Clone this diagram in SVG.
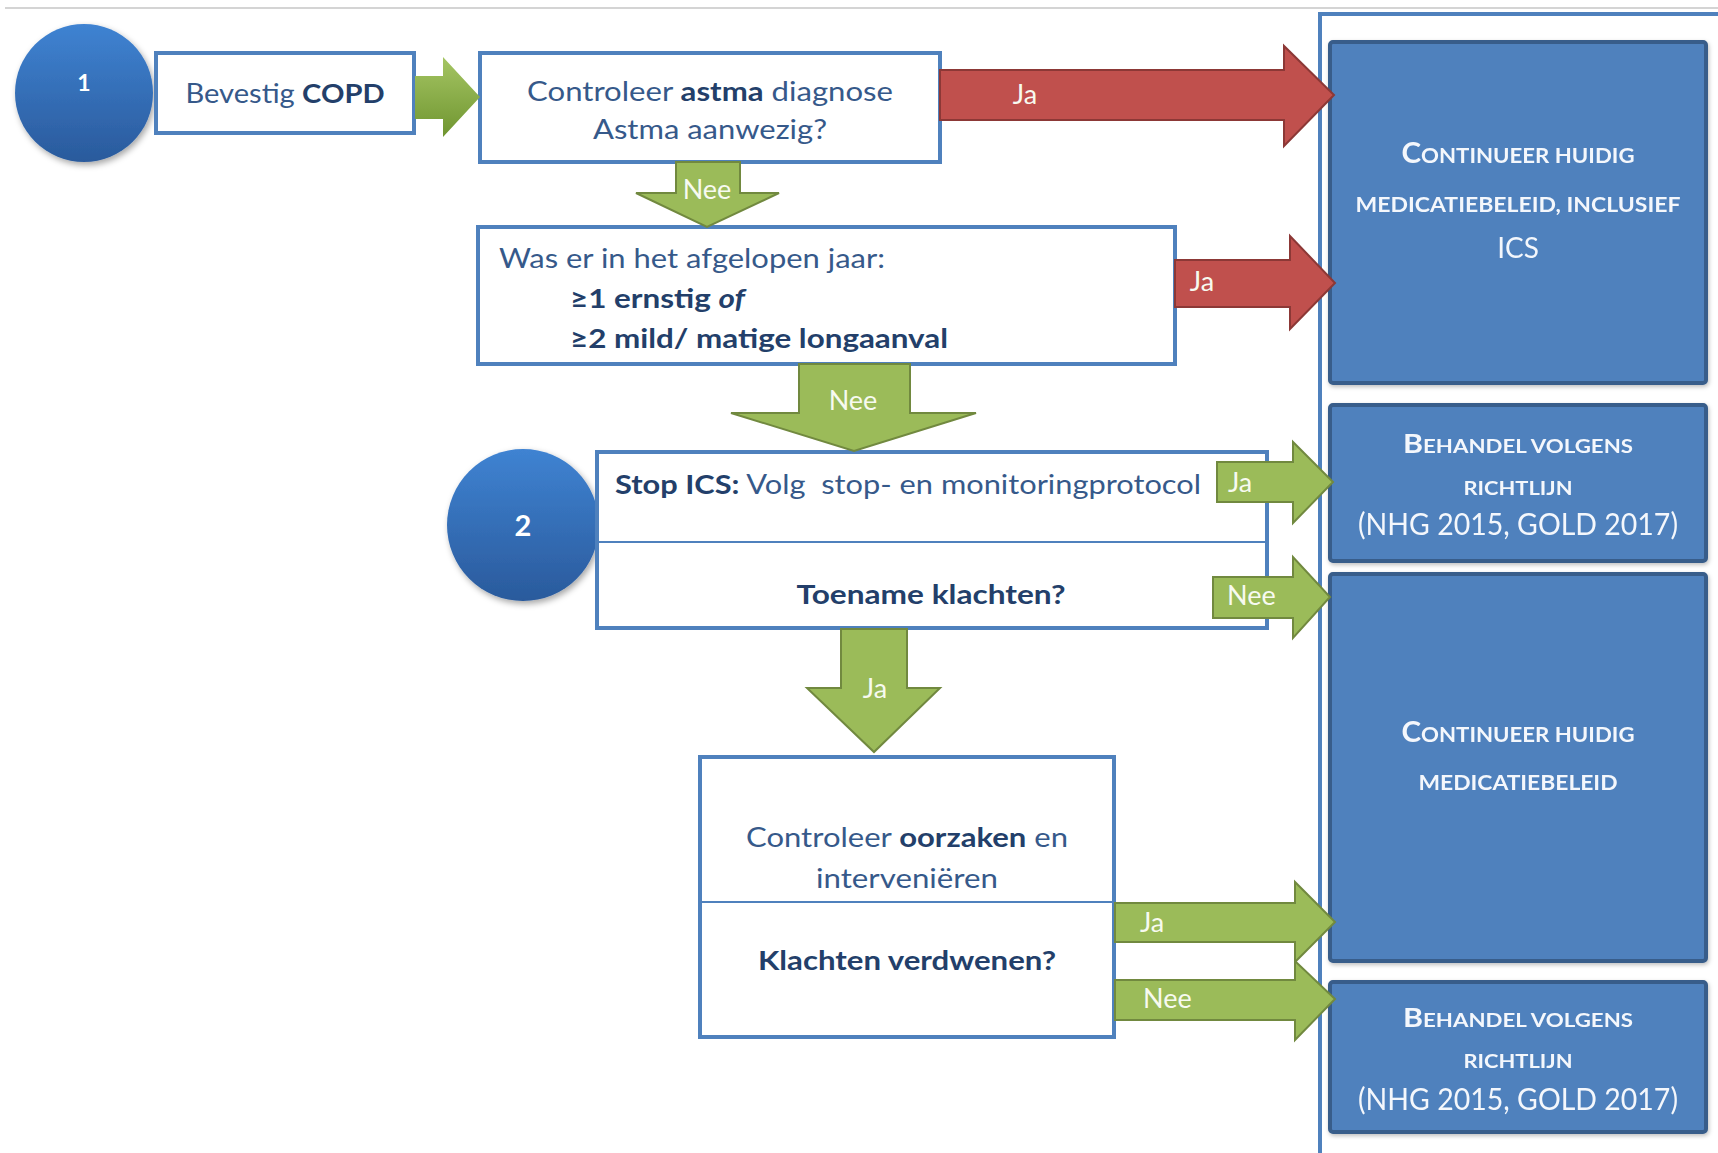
<svg xmlns="http://www.w3.org/2000/svg" width="1718" height="1153" viewBox="0 0 1718 1153">
  <defs>
    <linearGradient id="circGrad" x1="0" y1="0" x2="0" y2="1">
      <stop offset="0" stop-color="#3f83d2"/>
      <stop offset="1" stop-color="#2a5a9c"/>
    </linearGradient>
    <linearGradient id="greenGrad" x1="0" y1="0" x2="0" y2="1">
      <stop offset="0" stop-color="#a5c563"/>
      <stop offset="1" stop-color="#6f9530"/>
    </linearGradient>
    <filter id="shadow" x="-20%" y="-20%" width="140%" height="140%">
      <feDropShadow dx="2" dy="3" stdDeviation="3" flood-color="#000" flood-opacity="0.35"/>
    </filter>
    <filter id="softShadow" x="-5%" y="-5%" width="110%" height="110%">
      <feDropShadow dx="1" dy="2" stdDeviation="2" flood-color="#000" flood-opacity="0.25"/>
    </filter>
  </defs>
  <style>
    .wbox { fill: #ffffff; stroke: #4f81bd; stroke-width: 4; }
    .div { stroke: #4f81bd; stroke-width: 2; }
    .bbox { fill: #4f81bd; stroke: #385d8a; stroke-width: 4; }
    .circ { fill: url(#circGrad); filter: url(#shadow); }
    .green { fill: #9bbb59; stroke: #71893f; stroke-width: 2; stroke-linejoin: miter; }
    .red { fill: #c0504d; stroke: #8c3836; stroke-width: 2; stroke-linejoin: miter; }
    .t { font-family: Lato, "Open Sans", sans-serif; font-size: 27px; fill: #36598a; }
    .b { font-weight: bold; fill: #233f6a; }
    .num { font-family: Lato, "Open Sans", sans-serif; font-weight: bold; fill: #ffffff; text-anchor: middle; }
    .lbl { font-family: Lato, "Open Sans", sans-serif; font-size: 27px; fill: #f7faf0; }
    .sc { font-family: Lato, "Open Sans", sans-serif; fill: #f4f7fc; text-anchor: middle; }
    .scb { font-weight: bold; }
  </style>

  <!-- top rule -->
  <line x1="5" y1="8" x2="1718" y2="8" stroke="#d4d4d4" stroke-width="2"/>

  <!-- right panel border -->
  <rect id="panel" x="1320" y="14" width="420" height="1160" fill="none" stroke="#4f81bd" stroke-width="4"/>

  <g id="circle1">
    <circle class="circ" cx="84" cy="93" r="69"/>
    <text class="num" x="84" y="91" font-size="23">1</text>
  </g>

  <g id="bevestig">
    <rect class="wbox" x="156" y="53" width="258" height="80"/>
    <text class="t" x="285" y="103" text-anchor="middle" textLength="199" lengthAdjust="spacingAndGlyphs">Bevestig <tspan class="b">COPD</tspan></text>
  </g>

  <g id="astma">
    <rect class="wbox" x="480" y="53" width="460" height="109"/>
    <text class="t" x="710" y="101" text-anchor="middle" textLength="366" lengthAdjust="spacingAndGlyphs">Controleer <tspan class="b">astma</tspan> diagnose</text>
    <text class="t" x="710" y="139" text-anchor="middle" textLength="234" lengthAdjust="spacingAndGlyphs">Astma aanwezig?</text>
  </g>

  <g id="longaanval">
    <rect class="wbox" x="478" y="227" width="697" height="137"/>
    <text class="t" x="499" y="268" textLength="386" lengthAdjust="spacingAndGlyphs">Was er in het afgelopen jaar:</text>
    <text class="t b" x="570" y="308" textLength="175" lengthAdjust="spacingAndGlyphs">≥1 ernstig <tspan font-style="italic">of</tspan></text>
    <text class="t b" x="570" y="348" textLength="378" lengthAdjust="spacingAndGlyphs">≥2 mild/ matige longaanval</text>
  </g>

  <g id="circle2">
    <circle class="circ" cx="523" cy="525" r="76"/>
    <text class="num" x="523" y="536" font-size="29">2</text>
  </g>

  <g id="stopics">
    <rect class="wbox" x="597" y="452" width="670" height="176"/>
    <line class="div" x1="597" y1="542" x2="1267" y2="542"/>
    <text class="t" x="615" y="494" textLength="586" lengthAdjust="spacingAndGlyphs"><tspan class="b">Stop ICS:</tspan> Volg&#160; stop- en monitoringprotocol</text>
    <text class="t b" x="931" y="604" text-anchor="middle" textLength="269" lengthAdjust="spacingAndGlyphs">Toename klachten?</text>
  </g>

  <g id="oorzaken">
    <rect class="wbox" x="700" y="757" width="414" height="280"/>
    <line class="div" x1="700" y1="902" x2="1114" y2="902"/>
    <text class="t" x="907" y="847" text-anchor="middle" textLength="322" lengthAdjust="spacingAndGlyphs">Controleer <tspan class="b">oorzaken</tspan> en</text>
    <text class="t" x="907" y="888" text-anchor="middle" textLength="182" lengthAdjust="spacingAndGlyphs">interveniëren</text>
    <text class="t b" x="907" y="970" text-anchor="middle" textLength="298" lengthAdjust="spacingAndGlyphs">Klachten verdwenen?</text>
  </g>

  <g id="continueer-ics" filter="url(#softShadow)">
    <rect class="bbox" x="1330" y="42" width="376" height="341" rx="3"/>
    <text class="sc scb" x="1518" y="163" textLength="233" lengthAdjust="spacingAndGlyphs"><tspan font-size="28">C</tspan><tspan font-size="21">ONTINUEER HUIDIG</tspan></text>
    <text class="sc scb" x="1518" y="212" font-size="21" textLength="325" lengthAdjust="spacingAndGlyphs">MEDICATIEBELEID, INCLUSIEF</text>
    <text class="sc" x="1518" y="258" font-size="28">ICS</text>
  </g>

  <g id="behandel-1" filter="url(#softShadow)">
    <rect class="bbox" x="1330" y="405" width="376" height="156" rx="3"/>
    <text class="sc scb" x="1518" y="453" textLength="230" lengthAdjust="spacingAndGlyphs"><tspan font-size="26">B</tspan><tspan font-size="19">EHANDEL VOLGENS</tspan></text>
    <text class="sc scb" x="1518" y="495" font-size="19" textLength="109" lengthAdjust="spacingAndGlyphs">RICHTLIJN</text>
    <text class="sc" x="1518" y="535" font-size="30" textLength="320" lengthAdjust="spacingAndGlyphs">(NHG 2015, GOLD 2017)</text>
  </g>

  <g id="continueer" filter="url(#softShadow)">
    <rect class="bbox" x="1330" y="574" width="376" height="387" rx="3"/>
    <text class="sc scb" x="1518" y="742" textLength="233" lengthAdjust="spacingAndGlyphs"><tspan font-size="28">C</tspan><tspan font-size="21">ONTINUEER HUIDIG</tspan></text>
    <text class="sc scb" x="1518" y="790" font-size="21" textLength="199" lengthAdjust="spacingAndGlyphs">MEDICATIEBELEID</text>
  </g>

  <g id="behandel-2" filter="url(#softShadow)">
    <rect class="bbox" x="1330" y="982" width="376" height="150" rx="3"/>
    <text class="sc scb" x="1518" y="1027" textLength="230" lengthAdjust="spacingAndGlyphs"><tspan font-size="26">B</tspan><tspan font-size="19">EHANDEL VOLGENS</tspan></text>
    <text class="sc scb" x="1518" y="1068" font-size="19" textLength="109" lengthAdjust="spacingAndGlyphs">RICHTLIJN</text>
    <text class="sc" x="1518" y="1110" font-size="30" textLength="320" lengthAdjust="spacingAndGlyphs">(NHG 2015, GOLD 2017)</text>
  </g>

  <g id="connectors">
    <polygon points="415,76 443,76 443,57 480,97 443,137 443,119 415,119" fill="url(#greenGrad)"/>

    <polygon class="red" points="940,70 1284,70 1284,46 1334,95 1284,146 1284,120 940,120"/>
    <text class="lbl" x="1025" y="104" text-anchor="middle" fill="#fff">Ja</text>

    <polygon class="red" points="1175,260 1290,260 1290,236 1335,283 1290,329 1290,307 1175,307"/>
    <text class="lbl" x="1202" y="291" text-anchor="middle">Ja</text>

    <polygon class="green" points="676,162 740,162 740,193 779,193 707,227 636,193 676,193"/>
    <text class="lbl" x="707" y="199" text-anchor="middle">Nee</text>

    <polygon class="green" points="799,364 910,364 910,413 976,413 854,451 731,413 799,413"/>
    <text class="lbl" x="853" y="410" text-anchor="middle">Nee</text>

    <polygon class="green" points="1217,462 1293,462 1293,442 1333,482 1293,523 1293,502 1217,502"/>
    <text class="lbl" x="1228" y="492">Ja</text>

    <polygon class="green" points="1213,577 1293,577 1293,557 1330,597 1293,638 1293,618 1213,618"/>
    <text class="lbl" x="1227" y="605">Nee</text>

    <polygon class="green" points="841,629 907,629 907,688 940,688 874,752 807,688 841,688"/>
    <text class="lbl" x="875" y="698" text-anchor="middle">Ja</text>

    <polygon class="green" points="1115,903 1295,903 1295,882 1335,922 1295,962 1295,942 1115,942"/>
    <text class="lbl" x="1140" y="932">Ja</text>

    <polygon class="green" points="1115,980 1295,980 1295,961 1335,999 1295,1040 1295,1020 1115,1020"/>
    <text class="lbl" x="1143" y="1008">Nee</text>
  </g>
</svg>
